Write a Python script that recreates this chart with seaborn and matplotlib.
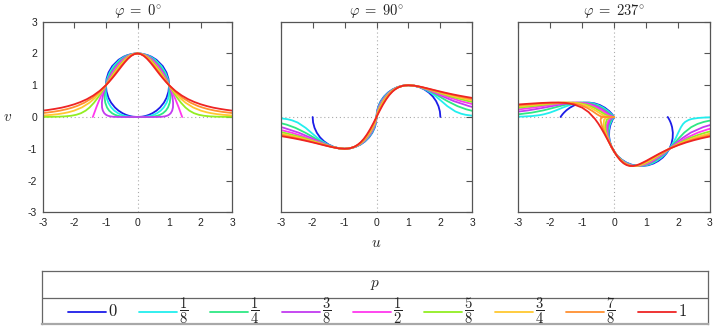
import numpy as np
import matplotlib
matplotlib.use("Agg")
import matplotlib.pyplot as plt
import seaborn as sns

# ---------------- data ----------------
P_LABELS = ["0", r"\dfrac{1}{8}", r"\dfrac{1}{4}", r"\dfrac{3}{8}", r"\dfrac{1}{2}",
            r"\dfrac{5}{8}", r"\dfrac{3}{4}", r"\dfrac{7}{8}", "1"]
COLORS = ["#1c1ce8", "#22eeee", "#2ee884", "#c23cf0", "#ff38ee",
          "#92ee22", "#ffc830", "#ff9030", "#ee2424"]
PANEL_TITLES = [r"$\varphi\;=\;0^{\circ}$", r"$\varphi\;=\;90^{\circ}$", r"$\varphi\;=\;237^{\circ}$"]
X_TICKS = [-3, -2, -1, 0, 1, 2, 3]
Y_TICKS = [-3, -2, -1, 0, 1, 2, 3]

# phi = 0 : right half (u >= 0), from the top (0, 2) downwards; mirrored in u
phi0_u_p0 = [0, .141, .312, .436, .6, .8, .917, .980, 1, .980, .917, .835, .714, .6, .475, .368, .28, .199, .141, 0]
phi0_v_p0 = [2, 1.99, 1.95, 1.9, 1.8, 1.6, 1.4, 1.2, 1, .8, .6, .45, .3, .2, .12, .07, .04, .02, .01, 0]
phi0_u_p1 = [0, .129, .287, .402, .558, .754, .879, .958, 1, 1.008, .977, .923, .830, .734, .619, .512, .419, .324, .251, .160, .082, 0]
phi0_v_p1 = [2, 1.99, 1.95, 1.9, 1.8, 1.6, 1.4, 1.2, 1, .8, .6, .45, .3, .2, .12, .07, .04, .02, .01, .003, .0005, 0]
phi0_u_p2 = [0, .119, .264, .371, .518, .711, .843, .936, 1, 1.036, 1.041, 1.020, .965, .897, .807, .715, .626, .529, .446, .331, .211, .119, 0]
phi0_v_p2 = [2, 1.99, 1.95, 1.9, 1.8, 1.6, 1.4, 1.2, 1, .8, .6, .45, .3, .2, .12, .07, .04, .02, .01, .003, .0005, .00005, 0]
phi0_u_p3 = [0, .109, .243, .343, .481, .671, .808, .915, 1, 1.065, 1.110, 1.127, 1.122, 1.097, 1.052, .996, .936, .863, .793, .683, .547, .410, .251, .141, 0]
phi0_v_p3 = [2, 1.99, 1.95, 1.9, 1.8, 1.6, 1.4, 1.2, 1, .8, .6, .45, .3, .2, .12, .07, .04, .02, .01, .003, .0005, .00005, .000001, .00000001, 0]
phi0_u_p4 = [0, .1, .2, .3, .4, .5, .6, .7, .8, .9, 1, 1.1, 1.2, 1.3, 1.414]
phi0_v_p4 = [2, 1.99, 1.96, 1.91, 1.84, 1.75, 1.64, 1.51, 1.36, 1.19, 1, .79, .56, .31, 0]
phi0_u_p5 = [0, .092, .206, .292, .416, .596, .743, .874, 1, 1.126, 1.261, 1.376, 1.516, 1.641, 1.787, 1.937, 2.094, 2.295, 2.509, 2.739, 3.004]
phi0_v_p5 = [2, 1.99, 1.95, 1.9, 1.8, 1.6, 1.4, 1.2, 1, .8, .6, .45, .3, .2, .12, .07, .04, .02, .01, .005, .0024]
phi0_u_p6 = [0, .084, .189, .269, .386, .562, .712, .855, 1, 1.158, 1.344, 1.520, 1.762, 2.006, 2.186, 2.330, 2.523, 2.701, 3.001]
phi0_v_p6 = [2, 1.99, 1.95, 1.9, 1.8, 1.6, 1.4, 1.2, 1, .8, .6, .45, .3, .2, .15, .12, .09, .07, .047]
phi0_u_p7 = [0, .077, .174, .249, .359, .530, .683, .836, 1, 1.191, 1.433, 1.680, 1.904, 2.049, 2.225, 2.453, 2.697, 2.996]
phi0_v_p7 = [2, 1.99, 1.95, 1.9, 1.8, 1.6, 1.4, 1.2, 1, .8, .6, .45, .35, .3, .25, .2, .16, .124]
phi0_u_p8 = [0, .1, .2, .3, .4, .5, .6, .7, .8, .9, 1, 1.2, 1.4, 1.6, 1.8, 2, 2.2, 2.4, 2.6, 2.8, 3]
phi0_v_p8 = [2, 1.980, 1.923, 1.835, 1.724, 1.6, 1.471, 1.342, 1.220, 1.105, 1, .820, .676, .562, .472, .4, .342, .294, .258, .226, .2]

# phi = 90 : half from the origin outwards (u >= 0); the curve is point-symmetric
phi90_u_p0 = [0, .015, .060, .134, .234, .357, .5, .658, .826, 1, 1.174, 1.342, 1.5, 1.643, 1.766, 1.866, 1.940, 1.985, 2.0]
phi90_v_p0 = [0, .174, .342, .5, .643, .766, .866, .940, .985, 1, .985, .940, .866, .766, .643, .5, .342, .174, 0]
phi90_u_p1 = [0, .019, .069, .146, .247, .369, .509, .663, .828, 1, 1.176, 1.353, 1.527, 1.699, 1.866, 2.035, 2.218, 2.470, 2.645, 2.786, 3.042]
phi90_v_p1 = [0, .174, .342, .5, .643, .766, .866, .940, .985, 1, .985, .940, .866, .766, .643, .5, .342, .174, .105, .070, .035]
phi90_u_p2 = [0, .024, .079, .159, .261, .382, .518, .668, .830, 1, 1.178, 1.363, 1.555, 1.756, 1.972, 2.219, 2.536, 2.810, 3.075]
phi90_v_p2 = [0, .174, .342, .5, .643, .766, .866, .940, .985, 1, .985, .940, .866, .766, .643, .5, .342, .242, .174]
phi90_u_p3 = [0, .029, .090, .174, .276, .395, .528, .674, .831, 1, 1.180, 1.374, 1.583, 1.815, 2.085, 2.420, 2.900, 3.031]
phi90_v_p3 = [0, .174, .342, .5, .643, .766, .866, .940, .985, 1, .985, .940, .866, .766, .643, .5, .342, .309]
phi90_u_p4 = [0, .037, .103, .190, .292, .408, .537, .679, .833, 1, 1.183, 1.384, 1.612, 1.877, 2.203, 2.639, 3.001]
phi90_v_p4 = [0, .174, .342, .5, .643, .766, .866, .940, .985, 1, .985, .940, .866, .766, .643, .5, .407]
phi90_u_p5 = [0, .045, .118, .207, .308, .422, .547, .684, .834, 1, 1.185, 1.395, 1.641, 1.941, 2.328, 2.878, 3.021]
phi90_v_p5 = [0, .174, .342, .5, .643, .766, .866, .940, .985, 1, .985, .940, .866, .766, .643, .5, .469]
phi90_u_p6 = [0, .057, .135, .225, .326, .436, .557, .689, .836, 1, 1.187, 1.406, 1.671, 2.006, 2.460, 2.976, 3.022]
phi90_v_p6 = [0, .174, .342, .5, .643, .766, .866, .940, .985, 1, .985, .940, .866, .766, .643, .530, .521]
phi90_u_p7 = [0, .070, .154, .246, .344, .451, .567, .695, .838, 1, 1.190, 1.417, 1.701, 2.074, 2.600, 2.880, 3.042]
phi90_v_p7 = [0, .174, .342, .5, .643, .766, .866, .940, .985, 1, .985, .940, .866, .766, .643, .588, .559]
phi90_u_p8 = [0, .1, .2, .3, .4, .5, .6, .7, .8, .9, 1, 1.2, 1.4, 1.6, 1.8, 2, 2.2, 2.4, 2.6, 2.8, 3]
phi90_v_p8 = [0, .198, .385, .550, .690, .8, .882, .940, .976, .994, 1, .984, .946, .899, .849, .8, .753, .710, .670, .634, .6]

# phi = 237 : whole curves, in drawing order
phi237_u_p0 = [-1.677, -1.674, -1.668, -1.658, -1.637, -1.616, -1.570, -1.495, -1.383, -1.261, -1.131, -0.961, -0.786, -0.614, -0.448, -0.294, -0.157, -0.084, -0.040, -0.020, 0.0, -0.019, -0.052, -0.118, -0.154, -0.160, -0.136, -0.082, 0.0, 0.107, 0.237, 0.385, 0.546, 0.717, 0.891, 1.064, 1.229, 1.383, 1.521, 1.637, 1.730, 1.795, 1.831, 1.837, 1.813, 1.784, 1.759, 1.730, 1.713, 1.696, 1.687, 1.681, 1.677]
phi237_v_p0 = [0.0, 0.006, 0.015, 0.029, 0.057, 0.085, 0.137, 0.210, 0.294, 0.362, 0.412, 0.448, 0.454, 0.430, 0.376, 0.294, 0.187, 0.111, 0.057, 0.029, 0.0, -0.030, -0.091, -0.252, -0.423, -0.597, -0.770, -0.935, -1.089, -1.227, -1.343, -1.436, -1.501, -1.537, -1.543, -1.519, -1.465, -1.383, -1.276, -1.146, -0.999, -0.837, -0.667, -0.492, -0.320, -0.219, -0.154, -0.091, -0.060, -0.030, -0.015, -0.006, 0.0]
phi237_u_p1 = [-3.183, -2.830, -2.581, -2.342, -2.200, -2.012, -1.817, -1.612, -1.432, -1.264, -1.062, -0.868, -0.682, -0.506, -0.343, -0.193, -0.111, -0.057, -0.030, -0.016, 0.0, -0.029, -0.071, -0.140, -0.171, -0.171, -0.140, -0.083, 0.0, 0.105, 0.228, 0.368, 0.519, 0.679, 0.844, 1.010, 1.172, 1.328, 1.475, 1.610, 1.730, 1.835, 1.927, 2.007, 2.091, 2.157, 2.223, 2.335, 2.436, 2.633, 2.859, 3.195]
phi237_v_p1 = [0.006, 0.015, 0.029, 0.057, 0.085, 0.137, 0.210, 0.294, 0.362, 0.412, 0.448, 0.454, 0.430, 0.376, 0.294, 0.187, 0.111, 0.057, 0.029, 0.015, 0.0, -0.030, -0.091, -0.252, -0.423, -0.597, -0.770, -0.935, -1.089, -1.227, -1.343, -1.436, -1.501, -1.537, -1.543, -1.519, -1.465, -1.383, -1.276, -1.146, -0.999, -0.837, -0.667, -0.492, -0.320, -0.219, -0.154, -0.091, -0.060, -0.030, -0.015, -0.006]
phi237_u_p2 = [-4.021, -3.349, -2.996, -2.579, -2.208, -1.879, -1.626, -1.412, -1.174, -0.958, -0.758, -0.572, -0.399, -0.238, -0.145, -0.082, -0.047, -0.028, -0.014, 0.0, -0.045, -0.095, -0.166, -0.191, -0.182, -0.145, -0.083, 0.0, 0.102, 0.220, 0.351, 0.494, 0.644, 0.799, 0.958, 1.117, 1.276, 1.431, 1.582, 1.730, 1.877, 2.027, 2.194, 2.411, 2.608, 2.808, 2.953, 3.152]
phi237_v_p2 = [0.029, 0.057, 0.085, 0.137, 0.210, 0.294, 0.362, 0.412, 0.448, 0.454, 0.430, 0.376, 0.294, 0.187, 0.111, 0.057, 0.029, 0.015, 0.006, 0.0, -0.030, -0.091, -0.252, -0.423, -0.597, -0.770, -0.935, -1.089, -1.227, -1.343, -1.436, -1.501, -1.537, -1.543, -1.519, -1.465, -1.383, -1.276, -1.146, -0.999, -0.837, -0.667, -0.492, -0.320, -0.219, -0.154, -0.122, -0.091]
phi237_u_p3 = [-4.078, -3.305, -2.853, -2.683, -2.189, -1.847, -1.578, -1.298, -1.057, -0.842, -0.647, -0.465, -0.294, -0.191, -0.117, -0.074, -0.047, -0.026, 0.0, -0.069, -0.129, -0.197, -0.213, -0.194, -0.150, -0.084, 0.0, 0.099, 0.212, 0.336, 0.469, 0.610, 0.757, 0.909, 1.065, 1.225, 1.388, 1.556, 1.731, 1.919, 2.132, 2.397, 2.781, 3.009]
phi237_v_p3 = [0.085, 0.137, 0.187, 0.210, 0.294, 0.362, 0.412, 0.448, 0.454, 0.430, 0.376, 0.294, 0.187, 0.111, 0.057, 0.029, 0.015, 0.006, 0.0, -0.030, -0.091, -0.252, -0.423, -0.597, -0.770, -0.935, -1.089, -1.227, -1.343, -1.436, -1.501, -1.537, -1.543, -1.519, -1.465, -1.383, -1.276, -1.146, -0.999, -0.837, -0.667, -0.492, -0.320, -0.252]
phi237_u_p4 = [-4.236, -3.261, -2.858, -2.551, -2.097, -1.763, -1.435, -1.167, -0.936, -0.731, -0.542, -0.363, -0.252, -0.167, -0.115, -0.080, -0.050, 0.0, -0.049, -0.108, -0.174, -0.234, -0.237, -0.207, -0.155, -0.085, 0.0, 0.097, 0.204, 0.321, 0.446, 0.578, 0.717, 0.863, 1.016, 1.176, 1.346, 1.529, 1.731, 1.962, 2.243, 2.619, 2.931, 3.060]
phi237_v_p4 = [0.137, 0.210, 0.254, 0.294, 0.362, 0.412, 0.448, 0.454, 0.430, 0.376, 0.294, 0.187, 0.111, 0.057, 0.029, 0.015, 0.006, 0.0, -0.006, -0.030, -0.091, -0.252, -0.423, -0.597, -0.770, -0.935, -1.089, -1.227, -1.343, -1.436, -1.501, -1.537, -1.543, -1.519, -1.465, -1.383, -1.276, -1.146, -0.999, -0.837, -0.667, -0.492, -0.388, -0.354]
phi237_u_p5 = [-3.964, -2.973, -2.800, -2.382, -1.970, -1.587, -1.288, -1.041, -0.826, -0.632, -0.447, -0.331, -0.239, -0.179, -0.136, -0.095, -0.056, 0.0, -0.056, -0.094, -0.167, -0.235, -0.278, -0.264, -0.221, -0.160, -0.085, 0.0, 0.095, 0.197, 0.307, 0.424, 0.548, 0.679, 0.819, 0.968, 1.129, 1.306, 1.503, 1.731, 2.006, 2.360, 2.635, 2.861, 2.991]
phi237_v_p5 = [0.210, 0.294, 0.3125, 0.362, 0.412, 0.448, 0.454, 0.430, 0.376, 0.294, 0.187, 0.111, 0.057, 0.029, 0.015, 0.006, 0.0015, 0.0, -0.0015, -0.006, -0.030, -0.091, -0.252, -0.423, -0.597, -0.770, -0.935, -1.089, -1.227, -1.343, -1.436, -1.501, -1.537, -1.543, -1.519, -1.465, -1.383, -1.276, -1.146, -0.999, -0.837, -0.667, -0.562, -0.492, -0.457]
phi237_u_p6 = [-3.465, -3.040, -2.705, -2.201, -1.754, -1.422, -1.156, -0.933, -0.736, -0.552, -0.435, -0.342, -0.278, -0.230, -0.181, -0.127, 0.0, -0.127, -0.178, -0.259, -0.317, -0.331, -0.294, -0.236, -0.165, -0.086, 0.0, 0.092, 0.190, 0.293, 0.403, 0.519, 0.644, 0.777, 0.923, 1.085, 1.267, 1.478, 1.732, 2.051, 2.483, 2.705, 2.972, 3.126]
phi237_v_p6 = [0.294, 0.330, 0.362, 0.412, 0.448, 0.454, 0.430, 0.376, 0.294, 0.187, 0.111, 0.057, 0.029, 0.015, 0.006, 0.0015, 0.0, -0.0015, -0.006, -0.030, -0.091, -0.252, -0.423, -0.597, -0.770, -0.935, -1.089, -1.227, -1.343, -1.436, -1.501, -1.537, -1.543, -1.519, -1.465, -1.383, -1.276, -1.146, -0.999, -0.837, -0.667, -0.597, -0.527, -0.492]
phi237_u_p7 = [-3.492, -3.071, -2.894, -2.459, -1.940, -1.569, -1.285, -1.055, -0.858, -0.680, -0.573, -0.490, -0.433, -0.390, -0.344, -0.288, -0.235, 0.0, -0.235, -0.287, -0.339, -0.402, -0.428, -0.393, -0.327, -0.251, -0.171, -0.087, 0.0, 0.090, 0.183, 0.280, 0.383, 0.492, 0.610, 0.738, 0.880, 1.041, 1.229, 1.453, 1.732, 2.097, 2.382, 2.612, 2.885, 3.044]
phi237_v_p7 = [0.330, 0.362, 0.376, 0.412, 0.448, 0.454, 0.430, 0.376, 0.294, 0.187, 0.111, 0.057, 0.029, 0.015, 0.006, 0.0015, 0.0003, 0.0, -0.0003, -0.0015, -0.006, -0.030, -0.091, -0.252, -0.423, -0.597, -0.770, -0.935, -1.089, -1.227, -1.343, -1.436, -1.501, -1.537, -1.543, -1.519, -1.465, -1.383, -1.276, -1.146, -0.999, -0.837, -0.736, -0.667, -0.597, -0.562]
phi237_u_p8 = [-3, -2.75, -2.5, -2.25, -2, -1.75, -1.5, -1.25, -1, -0.8, -0.6, -0.5, -0.4, -0.3, -0.2, -0.1, 0, 0.1, 0.2, 0.3, 0.4, 0.5, 0.6, 0.7, 0.8, 1.0, 1.2, 1.4, 1.6, 1.8, 2.0, 2.25, 2.5, 2.75, 3]
phi237_v_p8 = [0.394, 0.412, 0.428, 0.443, 0.453, 0.454, 0.439, 0.393, 0.294, 0.154, -0.061, -0.200, -0.361, -0.538, -0.725, -0.912, -1.089, -1.245, -1.370, -1.461, -1.517, -1.542, -1.541, -1.519, -1.482, -1.383, -1.271, -1.161, -1.060, -0.969, -0.889, -0.802, -0.729, -0.666, -0.612]

PHI0 = [(phi0_u_p0, phi0_v_p0), (phi0_u_p1, phi0_v_p1), (phi0_u_p2, phi0_v_p2),
        (phi0_u_p3, phi0_v_p3), (phi0_u_p4, phi0_v_p4), (phi0_u_p5, phi0_v_p5),
        (phi0_u_p6, phi0_v_p6), (phi0_u_p7, phi0_v_p7), (phi0_u_p8, phi0_v_p8)]
PHI90 = [(phi90_u_p0, phi90_v_p0), (phi90_u_p1, phi90_v_p1), (phi90_u_p2, phi90_v_p2),
         (phi90_u_p3, phi90_v_p3), (phi90_u_p4, phi90_v_p4), (phi90_u_p5, phi90_v_p5),
         (phi90_u_p6, phi90_v_p6), (phi90_u_p7, phi90_v_p7), (phi90_u_p8, phi90_v_p8)]
PHI237 = [(phi237_u_p0, phi237_v_p0), (phi237_u_p1, phi237_v_p1), (phi237_u_p2, phi237_v_p2),
          (phi237_u_p3, phi237_v_p3), (phi237_u_p4, phi237_v_p4), (phi237_u_p5, phi237_v_p5),
          (phi237_u_p6, phi237_v_p6), (phi237_u_p7, phi237_v_p7), (phi237_u_p8, phi237_v_p8)]


def full_phi0(u, v, closed):
    u = np.asarray(u, float); v = np.asarray(v, float)
    if closed:   # top -> right side -> bottom -> left side -> top
        return np.concatenate([u, -u[::-1][1:]]), np.concatenate([v, v[::-1][1:]])
    return np.concatenate([-u[::-1], u[1:]]), np.concatenate([v[::-1], v[1:]])


def full_phi90(u, v):
    u = np.asarray(u, float); v = np.asarray(v, float)
    return np.concatenate([-u[::-1], u[1:]]), np.concatenate([-v[::-1], v[1:]])


# ---------------- figure ----------------
sns.set_theme(style="white")
plt.rcParams["font.family"] = ["Liberation Sans", "DejaVu Sans"]
plt.rcParams["mathtext.fontset"] = "cm"
plt.rcParams["axes.unicode_minus"] = False

W, H = 714, 326
fig = plt.figure(figsize=(W / 100, H / 100), dpi=100)


def px_axes(x0, y0, x1, y1):
    return fig.add_axes([x0 / W, 1 - y1 / H, (x1 - x0) / W, (y1 - y0) / H])


frame_col = "#555555"
panels = [px_axes(42.7, 21.7, 232.3, 212.3),
          px_axes(280.7, 21.7, 472.3, 212.3),
          px_axes(518.3, 21.7, 710.0, 212.3)]

for k, ax in enumerate(panels):
    ax.axhline(0, color="#aaaaaa", lw=0.8, ls=(0, (1, 2.5)), zorder=0)
    ax.axvline(0, color="#aaaaaa", lw=0.8, ls=(0, (1, 2.5)), zorder=0)
    for i in range(9):
        if k == 0:
            uu, vv = full_phi0(*PHI0[i], closed=(i < 4))
        elif k == 1:
            uu, vv = full_phi90(*PHI90[i])
        else:
            uu, vv = np.asarray(PHI237[i][0]), np.asarray(PHI237[i][1])
        sns.lineplot(x=uu, y=vv, ax=ax, color=COLORS[i], lw=1.3, sort=False,
                     estimator=None, legend=False)
    ax.set_xlim(-3, 3)
    ax.set_ylim(-3, 3)
    ax.set_xticks(X_TICKS)
    ax.set_xticklabels([str(t) for t in X_TICKS])
    ax.set_yticks(Y_TICKS)
    if k == 0:
        ax.set_yticklabels([str(t) for t in Y_TICKS])
    else:
        ax.set_yticklabels([])
    ax.tick_params(direction="in", length=4, width=0.8, color=frame_col,
                   top=True, right=True, labelsize=7.5, labelcolor="#222222", pad=4)
    for s in ax.spines.values():
        s.set_color(frame_col)
        s.set_linewidth(0.9)
    ax.set_xlabel("")
    ax.set_ylabel("")
    ax.set_title(PANEL_TITLES[k], fontsize=10.5, pad=5, color="#222222")

fig.text(8 / W, 1 - 117 / H, r"$v$", fontsize=11, ha="center", va="center")
fig.text(376 / W, 1 - 243 / H, r"$u$", fontsize=11, ha="center", va="center")

# ---------------- legend box ----------------
lx0, ly0, lx1, ly1 = 42.0, 271.0, 708.0, 324.0
lg = px_axes(lx0, ly0, lx1, ly1)
lg.set_xlim(lx0, lx1)
lg.set_ylim(ly1, ly0)
lg.set_xticks([]); lg.set_yticks([])
for s in lg.spines.values():
    s.set_color("#666666")
    s.set_linewidth(0.9)
lg.spines["bottom"].set_color("#a8a8a8")
lg.spines["bottom"].set_linewidth(1.6)
lg.plot([lx0, lx1], [297.7, 297.7], color="#666666", lw=0.9)
lg.text(375, 284.5, r"$p$", fontsize=11, ha="center", va="center")
for i in range(9):
    x0 = 68 + 71.2 * i
    lg.plot([x0, x0 + 38], [311.5, 311.5], color=COLORS[i], lw=1.3)
    fs = 12 if i in (0, 8) else 10.5
    lg.text(x0 + 40, 311.0, "$" + P_LABELS[i] + "$", fontsize=fs,
            ha="left", va="center", color="#222222")

fig.savefig("out.png", dpi=100)
